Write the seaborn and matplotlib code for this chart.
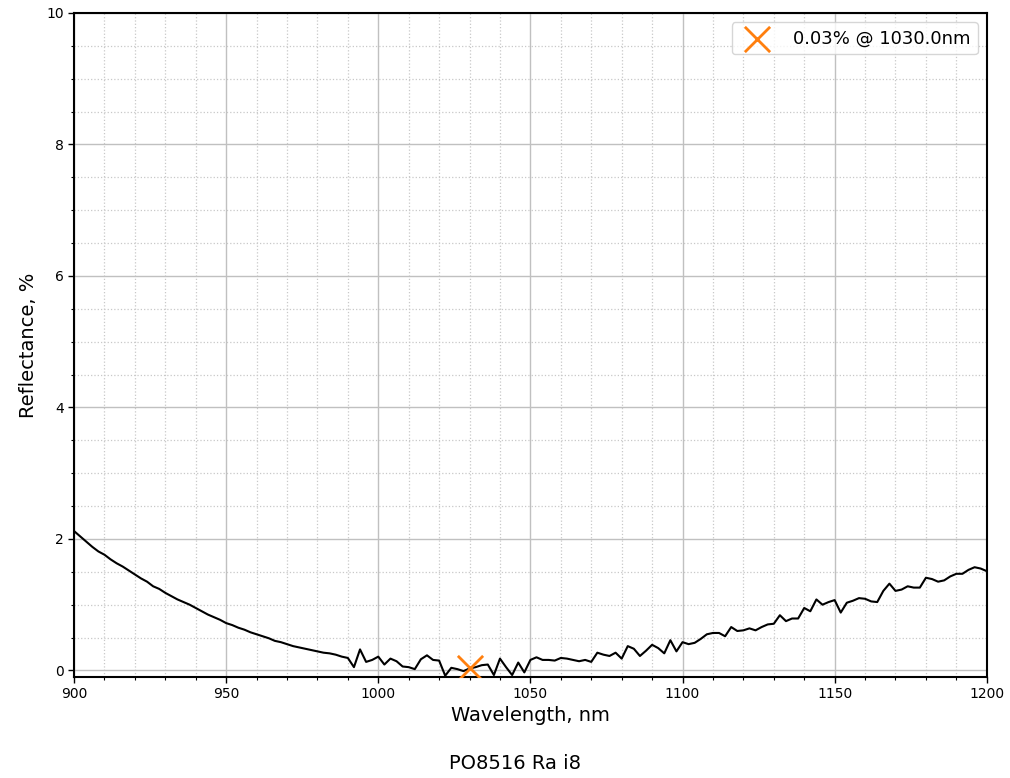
import numpy as np
import pandas as pd
import matplotlib
matplotlib.use("Agg")
import matplotlib.pyplot as plt
import seaborn as sns
from matplotlib.ticker import MultipleLocator

wavelength = np.arange(900, 1201, 2)
reflectance = [
    2.12, 2.04, 1.96, 1.88, 1.81, 1.76, 1.69, 1.63, 1.58, 1.52,
    1.46, 1.40, 1.35, 1.28, 1.24, 1.18, 1.13, 1.08, 1.04, 1.00,
    0.95, 0.90, 0.85, 0.81, 0.77, 0.72, 0.69, 0.65, 0.62, 0.58,
    0.55, 0.52, 0.49, 0.45, 0.43, 0.40, 0.37, 0.35, 0.33, 0.31,
    0.29, 0.27, 0.26, 0.24, 0.21, 0.19, 0.05, 0.32, 0.13, 0.16,
    0.21, 0.09, 0.18, 0.14, 0.06, 0.05, 0.02, 0.17, 0.23, 0.16,
    0.15, -0.08, 0.04, 0.02, -0.01, 0.03, 0.05, 0.08, 0.09, -0.07,
    0.18, 0.05, -0.07, 0.12, -0.03, 0.16, 0.20, 0.16, 0.16, 0.15,
    0.19, 0.18, 0.16, 0.14, 0.16, 0.13, 0.27, 0.24, 0.22, 0.27,
    0.18, 0.37, 0.33, 0.22, 0.30, 0.39, 0.34, 0.26, 0.46, 0.29,
    0.43, 0.40, 0.42, 0.48, 0.55, 0.57, 0.57, 0.52, 0.66, 0.60,
    0.61, 0.64, 0.61, 0.66, 0.70, 0.71, 0.84, 0.75, 0.79, 0.79,
    0.95, 0.90, 1.08, 1.00, 1.04, 1.07, 0.88, 1.03, 1.06, 1.10,
    1.09, 1.05, 1.04, 1.21, 1.32, 1.21, 1.23, 1.28, 1.26, 1.26,
    1.41, 1.39, 1.35, 1.37, 1.43, 1.47, 1.47, 1.53, 1.57, 1.55,
    1.51,
]
min_wl = [1030.0]
min_refl = [0.03]
min_label = "0.03% @ 1030.0nm"
sample_name = "PO8516 Ra i8"

df = pd.DataFrame({"wl": wavelength, "r": reflectance})

sns.set_style("white")
plt.rcParams["font.family"] = ["DejaVu Sans"]
plt.rcParams["text.color"] = "black"
plt.rcParams["axes.labelcolor"] = "black"
plt.rcParams["xtick.color"] = "black"
plt.rcParams["ytick.color"] = "black"

fig = plt.figure(figsize=(10.1, 7.78), dpi=100)
ax = fig.add_axes([0.0733, 0.1298, 0.9037, 0.8535])

sns.lineplot(data=df, x="wl", y="r", color="black", linewidth=1.5, ax=ax)
sns.scatterplot(x=min_wl, y=min_refl, marker="x", s=330, color="#ff7f0e",
                linewidth=2, label=min_label, ax=ax, zorder=5)

ax.set_xlim(900, 1200)
ax.set_ylim(-0.1, 10)
ax.xaxis.set_major_locator(MultipleLocator(50))
ax.xaxis.set_minor_locator(MultipleLocator(10))
ax.yaxis.set_major_locator(MultipleLocator(2))
ax.yaxis.set_minor_locator(MultipleLocator(0.5))
ax.grid(which="major", color="#c0c0c0", linewidth=1.0)
ax.grid(which="minor", color="#c8c8c8", linestyle=":", linewidth=0.9)
ax.tick_params(which="major", direction="out", length=4, width=1, labelsize=10,
               bottom=True, left=True)
ax.tick_params(which="minor", direction="out", length=2, width=0.8,
               bottom=True, left=True)
for sp in ax.spines.values():
    sp.set_color("black")
    sp.set_linewidth(1.5)

ax.set_xlabel("Wavelength, nm", fontsize=14, labelpad=3)
ax.set_ylabel("Reflectance, %", fontsize=14, labelpad=6)
ax.legend(loc="upper right", fontsize=13, handletextpad=1.0, borderpad=0.4)
fig.text(0.51, 0.006, sample_name, ha="center", va="bottom", fontsize=14)

fig.savefig("out.png", dpi=100)
